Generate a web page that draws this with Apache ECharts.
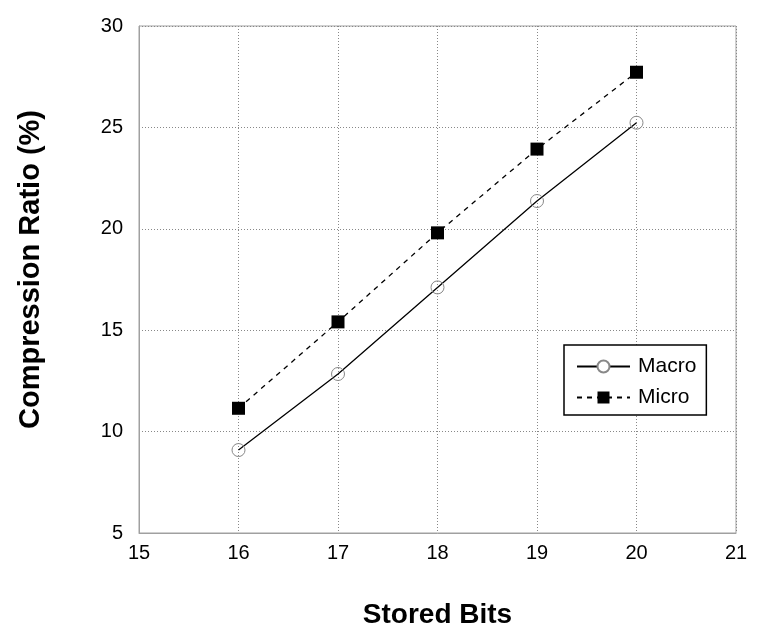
<!DOCTYPE html>
<html><head><meta charset="utf-8">
<script src="https://cdn.jsdelivr.net/npm/echarts@6/dist/echarts.min.js"></script>
<style>html,body{margin:0;padding:0;background:#fff}#c{width:757px;height:644px}</style>
</head><body><div id="c"></div>
<script>
const storedBits = [16, 17, 18, 19, 20];
const macro = [9.09, 12.84, 17.11, 21.37, 25.23];
const micro = [11.15, 15.41, 19.80, 23.93, 27.72];
const xTicks = [15, 16, 17, 18, 19, 20, 21];
const yTicks = [5, 10, 15, 20, 25, 30];

const chart = echarts.init(document.getElementById('c'), null, {renderer: 'canvas'});
const font = 'Liberation Sans, Arial, sans-serif';
chart.setOption({
  animation: false,
  backgroundColor: '#fff',
  grid: {left: 139, top: 26, right: 21, bottom: 111, show: true, borderColor: '#a0a0a0', borderWidth: 1},
  xAxis: {
    type: 'value', min: xTicks[0], max: xTicks[xTicks.length-1], interval: 1,
    name: 'Stored Bits', nameLocation: 'middle', nameGap: 68,
    nameTextStyle: {fontFamily: font, fontWeight: 'bold', fontSize: 28, color: '#000'},
    axisLine: {show: true, lineStyle: {color: '#a0a0a0'}},
    axisTick: {show: false},
    axisLabel: {fontFamily: font, fontSize: 20, color: '#000', margin: 10},
    splitLine: {show: true, lineStyle: {color: '#888', type: [1, 2], width: 1}}
  },
  yAxis: {
    type: 'value', min: yTicks[0], max: yTicks[yTicks.length-1], interval: 5,
    name: 'Compression Ratio (%)', nameLocation: 'middle', nameGap: 94,
    nameTextStyle: {fontFamily: font, fontWeight: 'bold', fontSize: 29, color: '#000', padding: [0, 0, 0, 20]},
    axisLine: {show: true, lineStyle: {color: '#a0a0a0'}},
    axisTick: {show: false},
    axisLabel: {fontFamily: font, fontSize: 20, color: '#000', margin: 16},
    splitLine: {show: true, lineStyle: {color: '#888', type: [1, 2], width: 1}}
  },
  legend: {
    show: true, orient: 'vertical', left: 564, top: 345,
    backgroundColor: '#fff', borderColor: '#000', borderWidth: 1.5,
    padding: [11, 10, 7, 12], itemGap: 10, itemWidth: 53, itemHeight: 15,
    textStyle: {fontFamily: font, fontSize: 21, color: '#000', padding: [0, 0, 0, 3]},
    data: [{name: 'Macro', itemStyle: {color: '#fff'}}, {name: 'Micro'}]
  },
  series: [
    {
      name: 'Macro', type: 'line', data: storedBits.map((x, i) => [x, macro[i]]),
      symbol: 'circle', symbolSize: 13,
      itemStyle: {color: 'rgba(255,255,255,0)', borderColor: '#888', borderWidth: 1},
      lineStyle: {color: '#000', width: 1.3, type: 'solid'},
      z: 3
    },
    {
      name: 'Micro', type: 'line', data: storedBits.map((x, i) => [x, micro[i]]),
      symbol: 'rect', symbolSize: 13,
      itemStyle: {color: '#000', borderColor: '#000', borderWidth: 0},
      lineStyle: {color: '#000', width: 1.3, type: [5, 5]},
      z: 3
    }
  ]
});
</script></body></html>
